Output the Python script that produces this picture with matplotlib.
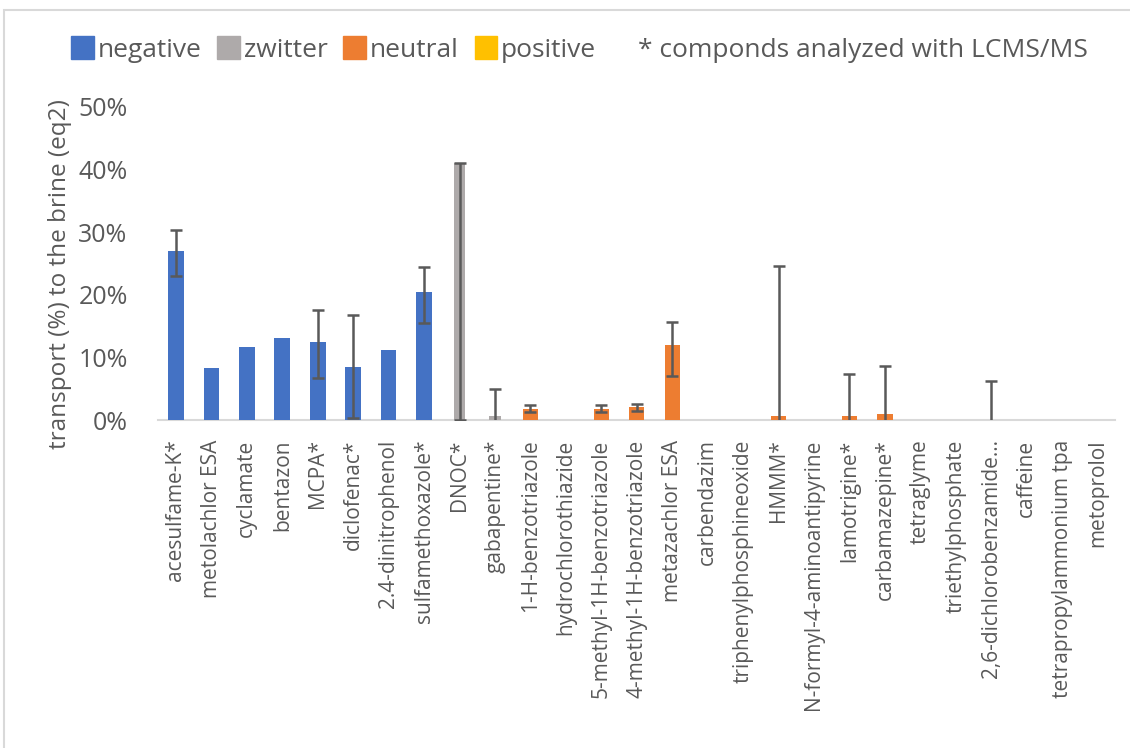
import matplotlib.pyplot as plt
import matplotlib.patches as mpatches
from matplotlib.ticker import FuncFormatter
import numpy as np

plt.rcParams['font.family'] = ['Open Sans', 'DejaVu Sans']

# compounds, in plotting order
compounds = [
    "acesulfame-K*", "metolachlor ESA", "cyclamate", "bentazon", "MCPA*",
    "diclofenac*", "2.4-dinitrophenol", "sulfamethoxazole*", "DNOC*",
    "gabapentine*", "1-H-benzotriazole", "hydrochlorothiazide",
    "5-methyl-1H-benzotriazole", "4-methyl-1H-benzotriazole", "metazachlor ESA",
    "carbendazim", "triphenylphosphineoxide", "HMMM*",
    "N-formyl-4-aminoantipyrine", "lamotrigine*", "carbamazepine*",
    "tetraglyme", "triethylphosphate", "2,6-dichlorobenzamide...", "caffeine",
    "tetrapropylammonium tpa", "metoprolol",
]

# charge class of each compound
charge = [
    "negative", "negative", "negative", "negative", "negative",
    "negative", "negative", "negative", "zwitter",
    "zwitter", "neutral", "neutral",
    "neutral", "neutral", "neutral",
    "neutral", "neutral", "neutral",
    "neutral", "neutral", "neutral",
    "neutral", "neutral", "neutral", "neutral",
    "positive", "positive",
]

# transport to the brine (%)
transport = [27.0, 8.3, 11.6, 13.1, 12.4, 8.5, 11.2, 20.4, 41.0,
             0.6, 1.8, 0.0, 1.8, 2.0, 12.0,
             0.0, 0.0, 0.6, 0.0, 0.6, 0.9,
             0.0, 0.0, 0.0, 0.0, 0.0, 0.0]
err_low = [4.0, 0, 0, 0, 5.7, 8.2, 0, 4.9, 41.0,
           4.3, 0.55, 0, 0.55, 0.55, 5.0,
           0, 0, 24.0, 0, 6.7, 7.7,
           0, 0, 6.3, 0, 0, 0]
err_high = [3.3, 0, 0, 0, 5.1, 8.2, 0, 4.0, 0.0,
            4.3, 0.55, 0, 0.55, 0.55, 3.6,
            0, 0, 24.0, 0, 6.7, 7.7,
            0, 0, 6.3, 0, 0, 0]

colors = {"negative": "#4472C4", "zwitter": "#AEAAAA",
          "neutral": "#ED7D31", "positive": "#FFC000"}
widths = {"negative": 0.44, "zwitter": 0.32, "neutral": 0.43, "positive": 0.43}

n = len(compounds)
transport = np.array(transport)
err_low = np.array(err_low)
err_high = np.array(err_high)

fig = plt.figure(figsize=(11.3, 7.48), dpi=100)
ax = fig.add_axes([0.140, 0.4385, 0.847, 0.4185])

x = np.arange(n)
ax.bar(x, transport, width=[widths[c] for c in charge],
       color=[colors[c] for c in charge], zorder=2)

# only draw error bars where there is an error
has_err = (err_low + err_high) > 0
ax.errorbar(x[has_err], transport[has_err],
            yerr=[err_low[has_err], err_high[has_err]], fmt="none",
            ecolor="#595959", elinewidth=1.8, capsize=4.2, capthick=1.8, zorder=3)

ax.set_xlim(-0.5, n - 0.5)
ax.set_ylim(0, 50)
ax.set_yticks(np.arange(0, 51, 10))
ax.yaxis.set_major_formatter(FuncFormatter(lambda v, p: f"{v:.0f}%"))
ax.set_xticks(x)
ax.set_xticklabels(compounds, rotation=90, fontsize=15, color="#595959")
ax.tick_params(axis="y", length=0, pad=22, labelsize=18, labelcolor="#595959")
ax.tick_params(axis="x", length=0, pad=14)

for s in ["top", "right", "left"]:
    ax.spines[s].set_visible(False)
ax.spines["bottom"].set_color("#D9D9D9")
ax.spines["bottom"].set_linewidth(1.5)
ax.spines["bottom"].set_zorder(1)

fig.text(0.053, 0.633, "transport (%) to the brine (eq2)", rotation=90,
         ha="center", va="center", fontsize=17.5, color="#595959")

# legend
handles = [mpatches.Patch(color=colors[k]) for k in ["negative", "zwitter", "neutral", "positive"]]
handles.append(mpatches.Patch(color="none"))
labels = ["negative", "zwitter", "neutral", "positive",
          "* componds analyzed with LCMS/MS"]
fig.legend(handles, labels, loc="center", bbox_to_anchor=(0.513, 0.934),
           ncol=5, frameon=False, fontsize=19, labelcolor="#595959",
           handlelength=0.85, handleheight=0.95, handletextpad=0.15,
           columnspacing=0.6)

# chart area border
fig.patches.append(mpatches.Rectangle((4 / 1130, -0.05), 1.1, 1 - 10 / 748 + 0.05,
                                      transform=fig.transFigure, fill=False,
                                      edgecolor="#D9D9D9", linewidth=1.5))

fig.savefig("out.png", dpi=100)
